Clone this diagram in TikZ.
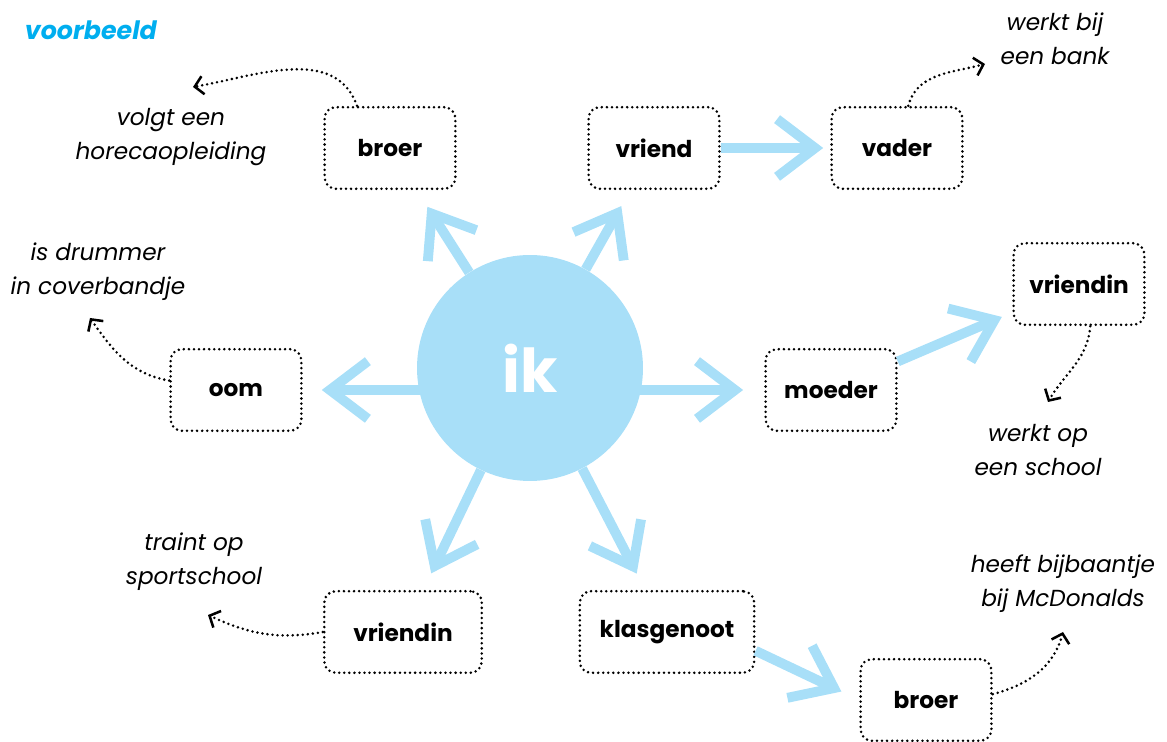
\documentclass[tikz,border=0pt]{standalone}
\usepackage{fontspec}
\setmainfont{Poppins}
\usetikzlibrary{arrows.meta, positioning, calc}
\definecolor{ikblue}{RGB}{168, 223, 248}
\definecolor{titlecyan}{RGB}{0, 174, 239}

\begin{document}
\begin{tikzpicture}[x=0.025cm, y=0.025cm,
  person/.style={draw, line width=2pt, dash pattern=on 0pt off 3.6pt, line cap=round,
    rounded corners=8pt, minimum width=93pt, minimum height=58pt,
    font=\fontsize{16.5}{18}\selectfont\bfseries},
  note/.style={font=\fontsize{16.5}{24}\selectfont\itshape, align=center},
  link/.style={draw=ikblue, line width=7pt, -{Straight Barb[length=27pt, width=41pt]}},
  hint/.style={line width=2pt, dash pattern=on 0pt off 3.6pt, line cap=round,
    -{Straight Barb[length=6pt, width=13pt, line width=1.8pt]}}]
  \useasboundingbox (0,0) rectangle (1167,742);

  % title
  \node[anchor=west, text=titlecyan, font=\fontsize{18}{20}\selectfont\bfseries\itshape] (title) at (20,712) {voorbeeld};

  % centre
  \node[circle, fill=ikblue, minimum size=160.7pt, inner sep=0pt, text=white,
    font=\fontsize{43}{43}\selectfont\bfseries] (ik) at (530,374) {ik};

  % people
  \node[person] (broerA) at (390,594) {broer};
  \node[person] (vriend) at (654,594) {vriend};
  \node[person] (vader) at (897,594) {vader};
  \node[person] (vriendinR) at (1079,458) {vriendin};
  \node[person] (moeder) at (831,352) {moeder};
  \node[person] (oom) at (236,352) {oom};
  \node[person, minimum width=112pt] (vriendinL) at (403,110) {vriendin};
  \node[person, minimum width=124pt] (klasgenoot) at (667,110) {klasgenoot};
  \node[person] (broerB) at (926,42) {broer};

  % notes
  \node[note] (nBroerA) at (171,605) {volgt een\\horecaopleiding};
  \node[note] (nOom) at (98,470) {is drummer\\in coverbandje};
  \node[note] (nVader) at (1055,703) {werkt bij\\een bank};
  \node[note] (nVriendinR) at (1038,292) {werkt op\\een school};
  \node[note] (nVriendinL) at (194,180) {traint op\\sportschool};
  \node[note] (nBroerB) at (1063,158) {heeft bijbaantje\\bij McDonalds};

  % blue arrows
  \draw[link, shorten >=14pt] (ik) -- (broerA);
  \draw[link, shorten >=13pt] (ik) -- (vriend);
  \draw[link, shorten <=-3pt, shorten >=13.5pt] (ik.west |- oom) -- (oom);
  \draw[link, shorten <=-3pt, shorten >=15pt] (ik.east |- moeder) -- (moeder);
  \draw[link, shorten >=13pt] (ik) -- (vriendinL);
  \draw[link, shorten >=13pt] (ik) -- (klasgenoot);
  \draw[link, shorten >=5pt] (vriend) -- (vader);
  \draw[link, shorten >=8pt] (moeder) -- (vriendinR);
  \draw[link, shorten >=14pt] (klasgenoot.-12) -- (broerB.west);

  % dotted hints
  \coordinate (tBroerA) at (193,655);
  \coordinate (tOom) at (90,424);
  \coordinate (tVader) at (985,678);
  \coordinate (tVriendinR) at (1048,340);
  \coordinate (tVriendinL) at (208,127);
  \coordinate (tBroerB) at (1063,110);
  \draw[hint] (broerA.128) to[out=110, in=10] (tBroerA);
  \draw[hint] (oom.172) to[out=170, in=-55] (tOom);
  \draw[hint] (vader.75) to[out=75, in=195] (tVader);
  \draw[hint] (vriendinR.-75) to[out=-95, in=60] (tVriendinR);
  \draw[hint] (vriendinL.west) to[out=190, in=-25] (tVriendinL);
  \draw[hint] (broerB.5) to[out=15, in=-105] (tBroerB);
\end{tikzpicture}
\end{document}
